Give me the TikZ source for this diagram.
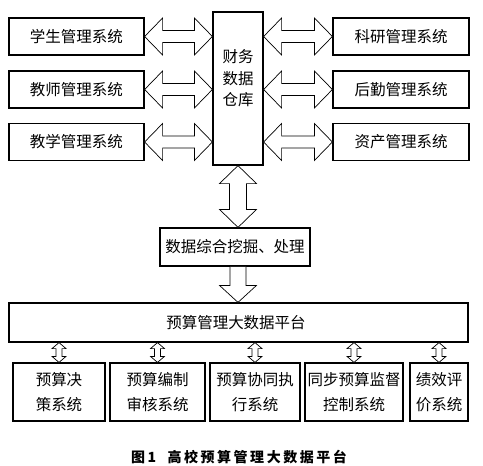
\documentclass[tikz,border=0pt]{standalone}
\usepackage{fontspec}
\setmainfont{Noto Sans CJK SC}
\usetikzlibrary{calc}
% horizontal double block arrow: from, to, head length, head half width, shaft half width
\newcommand\hdbl[5]{\draw[blk] let \p1=(#1), \p2=(#2) in
  (\x1,\y1) -- (\x1+#3,\y1+#4) -- (\x1+#3,\y1+#5) -- (\x2-#3,\y1+#5) -- (\x2-#3,\y1+#4) -- (\x2,\y1)
  -- (\x2-#3,\y1-#4) -- (\x2-#3,\y1-#5) -- (\x1+#3,\y1-#5) -- (\x1+#3,\y1-#4) -- cycle;}
% vertical double block arrow (top to bottom)
\newcommand\vdbl[5]{\draw[blk] let \p1=(#1), \p2=(#2) in
  (\x1,\y1) -- (\x1+#4,\y1-#3) -- (\x1+#5,\y1-#3) -- (\x1+#5,\y2+#3) -- (\x1+#4,\y2+#3) -- (\x1,\y2)
  -- (\x1-#4,\y2+#3) -- (\x1-#5,\y2+#3) -- (\x1-#5,\y1-#3) -- (\x1-#4,\y1-#3) -- cycle;}
% vertical single block arrow pointing down
\newcommand\vsgl[5]{\draw[blk] let \p1=(#1), \p2=(#2) in
  (\x1-#5,\y1) -- (\x1+#5,\y1) -- (\x1+#5,\y2+#3) -- (\x1+#4,\y2+#3) -- (\x1,\y2)
  -- (\x1-#4,\y2+#3) -- (\x1-#5,\y2+#3) -- cycle;}
\begin{document}
\begin{tikzpicture}[x=1pt,y=-1pt,
  box/.style={draw,line width=1.2pt,inner sep=0pt,align=center,font=\fontsize{15.5}{25}\selectfont},
  txt/.style={inner sep=0pt,align=center,font=\fontsize{15.5}{21.5}\selectfont},
  blk/.style={draw,line width=0.7pt,fill=white,line join=miter}]
\useasboundingbox (0,0) rectangle (483,466);
% left column
\node[box,minimum width=135pt,minimum height=37pt] (s1) at (76.5,36.5) {学生管理系统};
\node[box,minimum width=135pt,minimum height=37pt] (s2) at (76.5,89.5) {教师管理系统};
\node[box,minimum width=135pt,minimum height=37pt] (s3) at (76.5,142) {教学管理系统};
% right column
\node[box,minimum width=136pt,minimum height=37pt] (r1) at (401,36.5) {科研管理系统};
\node[box,minimum width=136pt,minimum height=37pt] (r2) at (401,89.5) {后勤管理系统};
\node[box,minimum width=136pt,minimum height=37pt] (r3) at (401,142) {资产管理系统};
% central warehouse
\node[box,minimum width=50pt,minimum height=153pt] (cw) at (238,88.5) {};
\node[txt] (cwt) at (238,78.5) {财务\\数据\\仓库};
% data mining
\node[box,minimum width=150pt,minimum height=38pt] (dm) at (235,247) {数据综合挖掘、处理};
% platform
\node[box,minimum width=459pt,minimum height=39pt] (pf) at (238.5,322.5) {};
\node[txt] (pft) at (236,322.5) {预算管理大数据平台};
% bottom boxes
\node[box,minimum width=92pt,minimum height=58pt] (b1) at (59,392) {预算决\\策系统};
\node[box,minimum width=95pt,minimum height=58pt] (b2) at (157.5,392) {预算编制\\审核系统};
\node[box,minimum width=90pt,minimum height=58pt] (b3) at (255,392) {预算协同执\\行系统};
\node[box,minimum width=98pt,minimum height=58pt] (b4) at (354,392) {同步预算监督\\控制系统};
\node[box,minimum width=58pt,minimum height=58pt] (b5) at (439,392) {绩效评\\价系统};
% caption
\node[inner sep=0pt,font=\fontsize{14}{16}\selectfont\bfseries\addfontfeatures{LetterSpace=18}] (cap) at (239,457) {图1\ \ 高校预算管理大数据平台};
% arrows left
\hdbl{s1.east}{s1.east -| cw.west}{18pt}{18.5pt}{6pt}
\hdbl{s2.east}{s2.east -| cw.west}{18pt}{18.5pt}{6pt}
\hdbl{s3.east}{s3.east -| cw.west}{18pt}{18.5pt}{6pt}
% arrows right
\hdbl{r1.west -| cw.east}{r1.west}{18pt}{18.5pt}{6pt}
\hdbl{r2.west -| cw.east}{r2.west}{18pt}{18.5pt}{6pt}
\hdbl{r3.west -| cw.east}{r3.west}{18pt}{18.5pt}{6pt}
% warehouse <-> mining
\vdbl{cw.south}{cw.south |- dm.north}{18pt}{18.5pt}{8.5pt}
% mining -> platform
\vsgl{cw.south |- dm.south}{cw.south |- pf.north}{17pt}{18.5pt}{8pt}
% platform <-> bottom boxes
\vdbl{b1.north |- pf.south}{b1.north}{6pt}{7pt}{3pt}
\vdbl{b2.north |- pf.south}{b2.north}{6pt}{7pt}{3pt}
\vdbl{b3.north |- pf.south}{b3.north}{6pt}{7pt}{3pt}
\vdbl{b4.north |- pf.south}{b4.north}{6pt}{7pt}{3pt}
\vdbl{b5.north |- pf.south}{b5.north}{6pt}{7pt}{3pt}
\end{tikzpicture}
\end{document}
